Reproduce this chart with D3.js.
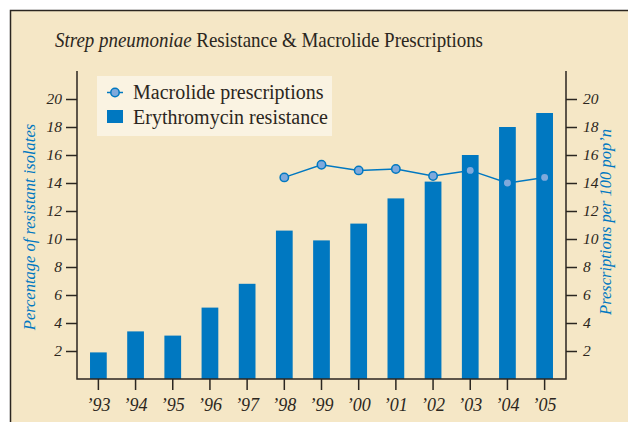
<!DOCTYPE html>
<html><head><meta charset="utf-8">
<script src="https://cdn.jsdelivr.net/npm/d3@7"></script>
<style>html,body{margin:0;padding:0;background:#fff;}svg{display:block;}</style>
</head><body>
<svg id="c" width="628" height="422"></svg>
<script>
const years = ["’93","’94","’95","’96","’97","’98","’99","’00","’01","’02","’03","’04","’05"];
const resistance = [1.9,3.4,3.1,5.1,6.8,10.6,9.9,11.1,12.9,14.1,16.0,18.0,19.0];
const prescYears = ["’98","’99","’00","’01","’02","’03","’04","’05"];
const prescriptions = [14.4,15.3,14.9,15.0,14.5,14.9,14.0,14.4];
const yTicks = [2,4,6,8,10,12,14,16,18,20];

const svg = d3.select("#c");
const bg="#f5e7c6", ink="#2b2620", blue="#0078c1", light="#7fa9dc";
const font="'Liberation Serif','Times New Roman',serif";

svg.append("rect").attr("x",10.5).attr("y",10.5).attr("width",700).attr("height",500)
  .attr("fill",bg).attr("stroke",ink).attr("stroke-width",1.5);

const L=77,R=566,T=71,B=379;
const x=d3.scaleBand().domain(years).range([L,R]).paddingInner(0.55).paddingOuter(0.35);
const y=d3.scaleLinear().domain([0,22]).range([B,B-22*14]);
const y2=d3.scaleLinear().domain([0,22]).range([B,B-22*14]);

// title
const title=svg.append("text").attr("x",55).attr("y",47)
  .attr("font-family",font).attr("font-size",21).attr("fill",ink)
  .attr("textLength",428).attr("lengthAdjust","spacingAndGlyphs");
title.append("tspan").attr("font-style","italic").text("Strep pneumoniae");
title.append("tspan").text(" Resistance & Macrolide Prescriptions");

// bars
svg.append("g").selectAll("rect").data(resistance).join("rect")
  .attr("x",(d,i)=>x(years[i])).attr("width",x.bandwidth())
  .attr("y",d=>y(d)).attr("height",d=>B-y(d)).attr("fill",blue);

// axes
function styleAxis(g){
  g.select(".domain").remove();
  g.selectAll(".tick line").attr("stroke",ink).attr("stroke-width",1.5);
  g.selectAll(".tick text").attr("font-family",font).attr("font-style","italic").attr("fill",ink);
}
const ga=svg.append("g").attr("transform",`translate(${L},0)`)
  .call(d3.axisLeft(y).tickValues(yTicks).tickSize(11).tickPadding(4));
styleAxis(ga); ga.selectAll(".tick text").attr("font-size",15.5);
const gb=svg.append("g").attr("transform",`translate(${R},0)`)
  .call(d3.axisRight(y2).tickValues(yTicks).tickSize(11).tickPadding(6));
styleAxis(gb); gb.selectAll(".tick text").attr("font-size",15.5);
const gx=svg.append("g").attr("transform",`translate(0,${B})`)
  .call(d3.axisBottom(x).tickSize(11).tickPadding(8));
styleAxis(gx); gx.selectAll(".tick text").attr("font-size",18);

// frame lines of plot
svg.append("path").attr("d",`M${L},${T}V${B}H${R}V${T}`).attr("fill","none")
  .attr("stroke",ink).attr("stroke-width",1.5);

// line
const cx=d=>x(d)+x.bandwidth()/2;
svg.append("path").datum(prescriptions)
  .attr("d",d3.line().x((d,i)=>cx(prescYears[i])).y(d=>y2(d)))
  .attr("fill","none").attr("stroke",blue).attr("stroke-width",1.5);
svg.append("g").selectAll("circle").data(prescriptions).join("circle")
  .attr("cx",(d,i)=>cx(prescYears[i])).attr("cy",d=>y2(d)).attr("r",4.2)
  .attr("fill",light).attr("stroke",blue).attr("stroke-width",1.5);

// legend
svg.append("rect").attr("x",97).attr("y",76).attr("width",235).attr("height",60).attr("fill","#faf3e2");
svg.append("line").attr("x1",107).attr("x2",123).attr("y1",92.5).attr("y2",92.5).attr("stroke",blue).attr("stroke-width",1.5);
svg.append("circle").attr("cx",115).attr("cy",92.5).attr("r",4.2).attr("fill",light).attr("stroke",blue).attr("stroke-width",1.5);
svg.append("rect").attr("x",107).attr("y",110).attr("width",16).attr("height",13).attr("fill",blue);
svg.append("text").attr("x",133).attr("y",99).attr("font-family",font).attr("font-size",20).attr("fill",ink).text("Macrolide prescriptions");
svg.append("text").attr("x",133).attr("y",124).attr("font-family",font).attr("font-size",20).attr("fill",ink).text("Erythromycin resistance");

// axis titles
svg.append("text").attr("transform","translate(35,227) rotate(-90)").attr("text-anchor","middle")
  .attr("font-family",font).attr("font-style","italic").attr("font-size",16.5).attr("fill",blue)
  .text("Percentage of resistant isolates");
svg.append("text").attr("transform","translate(611,222) rotate(-90)").attr("text-anchor","middle")
  .attr("font-family",font).attr("font-style","italic").attr("font-size",16.5).attr("fill",blue)
  .text("Prescriptions per 100 pop’n");
</script>
</body></html>
